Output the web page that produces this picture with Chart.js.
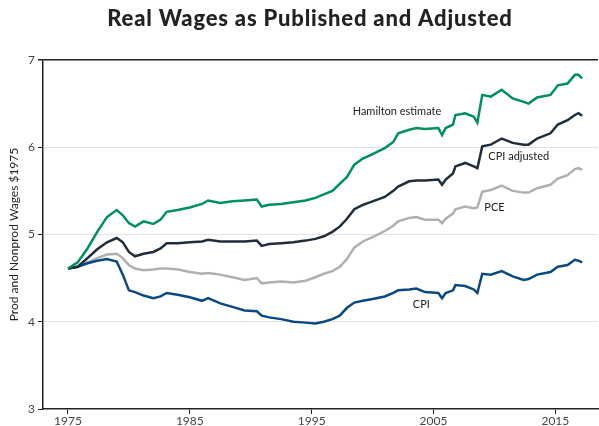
<!DOCTYPE html>
<html>
<head>
<meta charset="utf-8">
<script src="https://cdn.jsdelivr.net/npm/chart.js@4/dist/chart.umd.min.js"></script>
<style>
  html, body { margin: 0; padding: 0; background: #fff; }
  #wrap { width: 599px; height: 426px; position: relative; }
</style>
</head>
<body>
<div id="wrap"><canvas id="c" width="599" height="426"></canvas></div>
<script>
const chartTitle = "Real Wages as Published and Adjusted";
const yAxisTitle = "Prod and Nonprod Wages $1975";
const xTickValues = [1975, 1985, 1995, 2005, 2015];
const yTickValues = [3, 4, 5, 6, 7];

const years = [1975.0, 1975.8, 1976.6, 1977.4, 1978.2, 1979.0, 1979.5, 1980.0, 1980.5, 1981.2,
  1982.0, 1982.6, 1983.1, 1984.0, 1985.0, 1986.0, 1986.5, 1987.5, 1988.5, 1989.5,
  1990.5, 1990.9, 1991.5, 1992.5, 1993.5, 1994.5, 1995.3, 1996.0, 1996.7, 1997.3,
  1997.9, 1998.5, 1999.2, 2000.0, 2001.0, 2001.7, 2002.1, 2003.0, 2003.6, 2004.3,
  2005.4, 2005.7, 2006.0, 2006.6, 2006.8, 2007.6, 2008.3, 2008.6, 2009.0, 2009.7,
  2010.6, 2011.5, 2012.4, 2012.8, 2013.5, 2014.6, 2015.2, 2016.0, 2016.6, 2016.9, 2017.2];

const hamilton = [4.61, 4.68, 4.84, 5.03, 5.20, 5.28, 5.22, 5.13, 5.09, 5.15,
  5.12, 5.17, 5.26, 5.28, 5.31, 5.35, 5.39, 5.36, 5.38, 5.39,
  5.40, 5.32, 5.34, 5.35, 5.37, 5.39, 5.42, 5.46, 5.50, 5.58,
  5.66, 5.80, 5.87, 5.92, 5.99, 6.06, 6.16, 6.20, 6.22, 6.21,
  6.22, 6.14, 6.22, 6.26, 6.37, 6.39, 6.35, 6.28, 6.60, 6.58,
  6.66, 6.56, 6.52, 6.50, 6.57, 6.60, 6.71, 6.73, 6.83, 6.83, 6.79];

const cpiAdjusted = [4.61, 4.63, 4.73, 4.83, 4.91, 4.96, 4.91, 4.80, 4.75, 4.78,
  4.80, 4.84, 4.90, 4.90, 4.91, 4.92, 4.94, 4.92, 4.92, 4.92,
  4.93, 4.87, 4.89, 4.90, 4.91, 4.93, 4.95, 4.98, 5.03, 5.09,
  5.18, 5.29, 5.34, 5.38, 5.43, 5.50, 5.55, 5.61, 5.62, 5.62,
  5.63, 5.57, 5.63, 5.70, 5.78, 5.82, 5.78, 5.76, 6.01, 6.03,
  6.10, 6.05, 6.03, 6.03, 6.10, 6.16, 6.26, 6.31, 6.37, 6.39, 6.36];

const pce = [4.61, 4.63, 4.68, 4.73, 4.77, 4.78, 4.73, 4.65, 4.61, 4.59,
  4.60, 4.61, 4.61, 4.60, 4.57, 4.55, 4.56, 4.54, 4.51, 4.48,
  4.50, 4.44, 4.45, 4.46, 4.45, 4.47, 4.51, 4.55, 4.58, 4.63,
  4.72, 4.85, 4.92, 4.97, 5.04, 5.10, 5.15, 5.19, 5.20, 5.17,
  5.17, 5.13, 5.18, 5.24, 5.29, 5.32, 5.30, 5.31, 5.49, 5.51,
  5.56, 5.50, 5.48, 5.48, 5.53, 5.57, 5.64, 5.68, 5.75, 5.76, 5.74];

const cpi = [4.61, 4.63, 4.67, 4.70, 4.72, 4.69, 4.54, 4.36, 4.34, 4.30,
  4.27, 4.29, 4.33, 4.31, 4.28, 4.24, 4.27, 4.21, 4.17, 4.13,
  4.12, 4.07, 4.05, 4.03, 4.00, 3.99, 3.98, 4.00, 4.03, 4.07,
  4.16, 4.22, 4.24, 4.26, 4.29, 4.33, 4.36, 4.37, 4.38, 4.34,
  4.33, 4.27, 4.33, 4.36, 4.42, 4.41, 4.37, 4.33, 4.55, 4.54,
  4.58, 4.52, 4.48, 4.49, 4.54, 4.57, 4.63, 4.65, 4.71, 4.70, 4.68];

const seriesNames = ["Hamilton estimate", "CPI adjusted", "PCE", "CPI"];
// label anchor positions in data units (year, value)
const labelYears = [2002.0, 2012.0, 2010.0, 2004.0];
const labelValues = [6.41, 5.89, 5.31, 4.20];

const colors = ["#00905c", "#1f2e3c", "#b0b0b0", "#0b4a80"];
const seriesValues = [hamilton, cpiAdjusted, pce, cpi];

function pts(vals) { return years.map((x, i) => ({ x: x, y: vals[i] })); }

const FONT = "Lato, 'Open Sans', 'DejaVu Sans', sans-serif";

const overlay = {
  id: 'overlay',
  afterDraw(chart) {
    const ctx = chart.ctx;
    const xs = chart.scales.x, ys = chart.scales.y;
    ctx.save();
    ctx.fillStyle = '#222';
    ctx.font = "900 22px " + FONT;
    try { ctx.letterSpacing = '0.8px'; } catch (e) {}
    ctx.textAlign = 'center';
    ctx.textBaseline = 'middle';
    ctx.fillText(chartTitle, 310, 19);
    try { ctx.letterSpacing = '0px'; } catch (e) {}
    ctx.font = "11px " + FONT;
    ctx.fillStyle = '#222';
    for (let i = 0; i < seriesNames.length; i++) {
      ctx.fillText(seriesNames[i], xs.getPixelForValue(labelYears[i]), ys.getPixelForValue(labelValues[i]));
    }
    ctx.restore();
  }
};

new Chart(document.getElementById('c'), {
  type: 'line',
  data: {
    datasets: seriesNames.map((n, i) => ({
      label: n,
      data: pts(seriesValues[i]),
      borderColor: colors[i],
      backgroundColor: colors[i],
      borderWidth: 2.5,
      pointRadius: 0,
      tension: 0,
      order: i === 2 ? 4 : i
    }))
  },
  options: {
    responsive: false,
    animation: false,
    devicePixelRatio: 1,
    layout: { padding: { top: 60, right: 1, bottom: 0, left: 0 } },
    plugins: { legend: { display: false }, title: { display: false }, tooltip: { enabled: false } },
    scales: {
      x: {
        type: 'linear',
        min: 1972.95,
        max: 2018.5,
        afterBuildTicks(s) { s.ticks = xTickValues.map(v => ({ value: v })); },
        afterFit(s) { s.height = 17; },
        ticks: { callback: v => String(v), color: '#444', font: { family: FONT, size: 12 }, padding: 0, maxRotation: 0, autoSkip: false },
        grid: { drawOnChartArea: false, drawTicks: true, tickLength: 5, tickColor: '#222', tickWidth: 1 },
        border: { display: true, color: '#222', width: 1.5 }
      },
      y: {
        min: 3,
        max: 7,
        afterBuildTicks(s) { s.ticks = yTickValues.map(v => ({ value: v })); },
        afterFit(s) { s.width = 43; },
        title: { display: true, text: yAxisTitle, color: '#222', font: { family: FONT, size: 12 }, padding: { top: 7, bottom: 0 } },
        ticks: { color: '#444', font: { family: FONT, size: 12 }, padding: 3 },
        grid: {
          drawTicks: true,
          tickLength: 5,
          tickColor: '#222',
          color: c => c.tick && c.tick.value === 7 ? '#222' : (c.tick && c.tick.value === 3 ? 'rgba(0,0,0,0)' : '#e2e2e2'),
          lineWidth: c => c.tick && c.tick.value === 7 ? 1.5 : 1
        },
        border: { display: true, color: '#222', width: 1.5 }
      }
    }
  },
  plugins: [overlay]
});
</script>
</body>
</html>
